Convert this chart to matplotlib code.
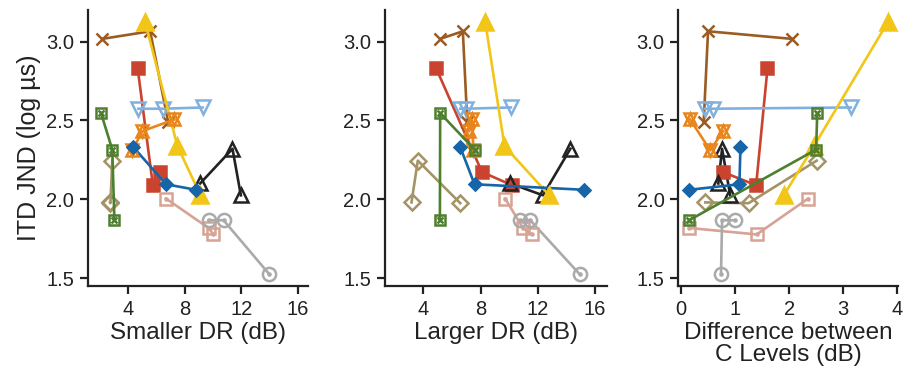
import matplotlib
matplotlib.use("Agg")
import matplotlib.pyplot as plt
import numpy as np
from matplotlib import font_manager

avail = {f.name for f in font_manager.fontManager.ttflist}
fams = [f for f in ["Liberation Sans Narrow", "Liberation Sans", "DejaVu Sans"] if f in avail]
plt.rcParams["font.family"] = fams

# ---- data: one entry per listener/electrode group ----
series_names = ["brown", "yellow", "red", "lightblue", "orange", "green",
                "tan", "blue", "black", "pink", "gray"]
itd_jnd = [
    [3.017, 3.065, 2.49],
    [3.125, 2.337, 2.03],
    [2.83, 2.089, 2.173],
    [2.574, 2.574, 2.582],
    [2.31, 2.432, 2.506],
    [2.546, 2.315, 1.867],
    [2.245, 1.98, 1.975],
    [2.33, 2.095, 2.06],
    [2.32, 2.10, 2.025],
    [2.004, 1.818, 1.777],
    [1.867, 1.867, 1.525],
]
smaller_dr = [
    [2.21, 5.58, 6.85],
    [5.22, 7.5, 9.1],
    [4.7, 5.77, 6.28],
    [4.75, 6.51, 9.27],
    [4.33, 5.03, 7.29],
    [2.12, 2.91, 3.06],
    [2.91, 2.75, 2.78],
    [4.4, 6.7, 8.8],
    [11.38, 9.1, 11.97],
    [6.7, 9.69, 10.04],
    [9.69, 10.75, 13.97],
]
larger_dr = [
    [5.17, 6.76, 7.07],
    [8.33, 9.68, 12.77],
    [4.89, 10.2, 8.1],
    [6.58, 7.0, 10.13],
    [7.5, 7.2, 7.4],
    [5.17, 7.58, 5.15],
    [3.6, 3.16, 6.58],
    [6.58, 7.58, 15.28],
    [14.3, 10.1, 12.38],
    [9.73, 10.97, 11.6],
    [10.74, 11.49, 14.95],
]
c_level_diff = [
    [2.05, 0.50, 0.42],
    [3.83, 2.46, 1.91],
    [1.6, 1.39, 0.77],
    [0.44, 0.6, 3.14],
    [0.54, 0.78, 0.17],
    [2.52, 2.50, 0.15],
    [2.51, 0.45, 1.25],
    [1.10, 1.08, 0.15],
    [0.76, 0.69, 0.91],
    [2.35, 0.15, 1.4],
    [1.0, 0.76, 0.74],
]
x_labels = ["Smaller DR (dB)", "Larger DR (dB)", "Difference between\nC Levels (dB)"]
x_ticks = [[4, 8, 12, 16], [4, 8, 12, 16], [0, 1, 2, 3, 4]]
x_lims = [(1.2, 16.7), (1.3, 16.85), (-0.05, 4.02)]
y_ticks = [1.5, 2.0, 2.5, 3.0]
y_tick_labels = ["1.5", "2.0", "2.5", "3.0"]

# ---- styles ----
colors = {
    "brown": "#9b5b22", "yellow": "#f2c618", "red": "#c9432f",
    "lightblue": "#80b1de", "orange": "#e8861e", "green": "#4e7f2f",
    "tan": "#a39366", "blue": "#1565a8", "black": "#222222",
    "pink": "#d6a395", "gray": "#aaaaaa",
}
# list of (marker, size, filled) layers per series
markers = {
    "brown": [("x", 9, True)],
    "yellow": [("^", 11, True)],
    "red": [("s", 8.5, True)],
    "lightblue": [("v", 10, False)],
    "orange": [("^", 9, False), ("v", 9, False)],
    "green": [("s", 7.5, False), ("x", 5, True)],
    "tan": [("D", 8.5, False)],
    "blue": [("D", 6, True)],
    "black": [("^", 10, False)],
    "pink": [("s", 8.5, False), (".", 3, True)],
    "gray": [("o", 9.5, False), (".", 3, True)],
}
zorder = {"brown": 3, "yellow": 4, "red": 3, "lightblue": 3, "orange": 4,
          "green": 5, "tan": 3, "blue": 4, "black": 3, "pink": 3, "gray": 3}

fig = plt.figure(figsize=(9.04, 3.77), dpi=100)
lefts = [88 / 904, 385 / 904, 678.3 / 904]
widths = [220 / 904, 221.7 / 904, 220 / 904]
bottom = (377 - 286) / 377
height = 276 / 377

xdata_sets = [smaller_dr, larger_dr, c_level_diff]
for p in range(3):
    ax = fig.add_axes([lefts[p], bottom, widths[p], height])
    xs_all = xdata_sets[p]
    for i, name in enumerate(series_names):
        xs = np.array(xs_all[i])
        ys = np.array(itd_jnd[i])
        order = np.argsort(xs, kind="stable")
        xs, ys = xs[order], ys[order]
        c = colors[name]
        ax.plot(xs, ys, "-", color=c, lw=1.9, zorder=zorder[name])
        for (m, s, filled) in markers[name]:
            ax.plot(xs, ys, linestyle="none", marker=m, markersize=s,
                    markeredgecolor=c,
                    markerfacecolor=c if filled else "none",
                    markeredgewidth=1.8, zorder=zorder[name] + 0.1)
    ax.set_xlim(*x_lims[p])
    ax.set_ylim(1.45, 3.2)
    ax.set_xticks(x_ticks[p])
    ax.set_yticks(y_ticks)
    ax.set_yticklabels(y_tick_labels)
    for sp in ["top", "right"]:
        ax.spines[sp].set_visible(False)
    for sp in ["left", "bottom"]:
        ax.spines[sp].set_linewidth(1.6)
        ax.spines[sp].set_color("#222222")
    ax.tick_params(direction="out", length=6, width=1.6, labelsize=14.5,
                   colors="#222222", pad=4)
    ax.set_xlabel(x_labels[p], fontsize=17.5, labelpad=2, color="#222222",
                  linespacing=1.0)
    if p == 0:
        ax.set_ylabel("ITD JND (log µs)", fontsize=18, labelpad=4, color="#222222")

fig.savefig("out.png", dpi=100)
